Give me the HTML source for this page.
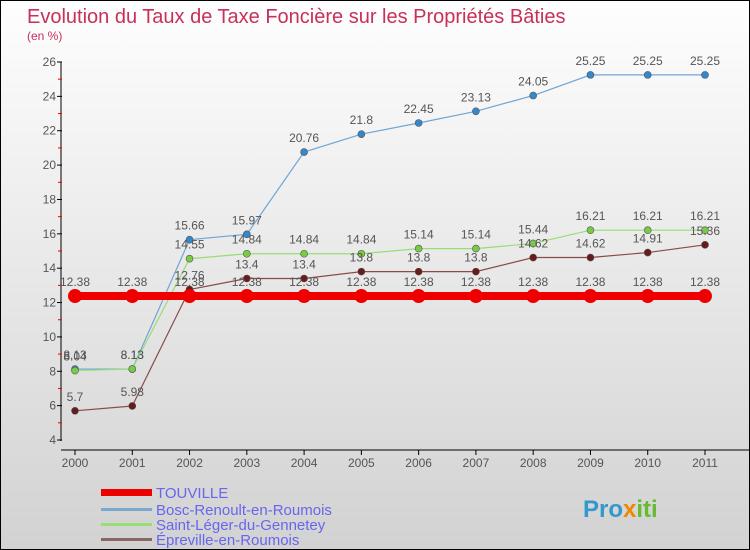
<!DOCTYPE html>
<html><head><meta charset="utf-8"><style>
body{margin:0;width:750px;height:550px;overflow:hidden}
#c{position:relative;width:748px;height:548px;border:1px solid #000;background:linear-gradient(#fefefe,#d2d2d2);font-family:"Liberation Sans","DejaVu Sans",sans-serif}
</style></head><body>
<div id="c">
<svg id="s" width="748" height="548" style="position:absolute;left:0;top:0">
<text x="26" y="22" font-size="20" fill="#c8305a">Evolution du Taux de Taxe Foncière sur les Propriétés Bâties</text>
<text x="26" y="39" font-size="12" fill="#c8305a">(en %)</text>
<g id="axes"></g><g id="series"></g>
<g>
<rect x="100" y="488" width="51" height="7" fill="#e00"/>
<text x="155" y="497" font-size="15" fill="#6666ee">TOUVILLE</text>
<rect x="100" y="507" width="51" height="3" fill="#7aa7cc"/>
<text x="155" y="514" font-size="15" fill="#6666ee">Bosc-Renoult-en-Roumois</text>
<rect x="100" y="522" width="51" height="3" fill="#99dd77"/>
<text x="155" y="529" font-size="15" fill="#6666ee">Saint-Léger-du-Gennetey</text>
<rect x="100" y="537" width="51" height="3" fill="#886666"/>
<text x="155" y="544" font-size="15" fill="#6666ee">Épreville-en-Roumois</text>
</g>
<text x="582" y="516" font-size="24" font-weight="bold" fill="#3399cc">Pro<tspan fill="#ee8800">x</tspan><tspan fill="#66bb33">iti</tspan></text>
</svg>
</div>
<script>
const years=[2000,2001,2002,2003,2004,2005,2006,2007,2008,2009,2010,2011];
const yTicks=[4,6,8,10,12,14,16,18,20,22,24,26];
const touville=[12.38,12.38,12.38,12.38,12.38,12.38,12.38,12.38,12.38,12.38,12.38,12.38];
const bosc=[8.13,8.13,15.66,15.97,20.76,21.8,22.45,23.13,24.05,25.25,25.25,25.25];
const saint=[8.04,8.13,14.55,14.84,14.84,14.84,15.14,15.14,15.44,16.21,16.21,16.21];
const epreville=[5.7,5.98,12.76,13.4,13.4,13.8,13.8,13.8,14.62,14.62,14.91,15.36];
const NS="http://www.w3.org/2000/svg";
const X=i=>74+i*(630/11);
const Y=v=>439-(v-4)*(378/22);
function mk(t,a,p){const e=document.createElementNS(NS,t);for(const k in a)e.setAttribute(k,a[k]);p.appendChild(e);return e;}
const ax=document.getElementById('axes');
const yl=mk('line',{x1:60,y1:Y(26),x2:60,y2:Y(4)+1,stroke:'#000'},ax);


mk('line',{x1:60,y1:449,x2:748,y2:449,stroke:'#000'},ax);
yTicks.forEach(v=>{
 mk('line',{x1:56,y1:Y(v),x2:61,y2:Y(v),stroke:'#000'},ax);
 if(v<26)mk('line',{x1:57,y1:Y(v+1),x2:61,y2:Y(v+1),stroke:'#e00'},ax);
 const t=mk('text',{x:55,y:Y(v)+4,'font-size':12,fill:'#555','text-anchor':'end'},ax);
 t.textContent=v;
 
 
});
years.forEach((y,i)=>{
 mk('line',{x1:X(i),y1:449,x2:X(i),y2:454,stroke:'#000'},ax);
 const t=mk('text',{x:X(i),y:466,'font-size':12,fill:'#555','text-anchor':'middle'},ax);
 t.textContent=y;
 
 
});
const sg=document.getElementById('series');
function draw(data,col,dot,w,r,name){
 const g=mk('g',{},sg);
 
 
 mk('polyline',{points:data.map((v,i)=>X(i)+','+Y(v)).join(' '),fill:'none',stroke:col,'stroke-width':w},g);
 data.forEach((v,i)=>{
  const c=mk('circle',{cx:X(i),cy:Y(v),r:r,fill:dot,stroke:'#555','stroke-width':r>5?0:0.6},g);
  
  
  const t=mk('text',{x:X(i),y:Y(v)-10,'font-size':12,fill:'#555','text-anchor':'middle'},g);
  t.textContent=v;
  
  
 });
}
draw(bosc,'#6fa6d6','#3388cc',1.2,3.5,'bosc');
draw(saint,'#99dd77','#77cc44',1.2,3.5,'saint');
draw(epreville,'#8a4a4a','#6a1a1a',1.2,3.5,'epreville');
draw(touville,'#ee0000','#ee0000',8,7,'touville');
</script>
</body></html>
